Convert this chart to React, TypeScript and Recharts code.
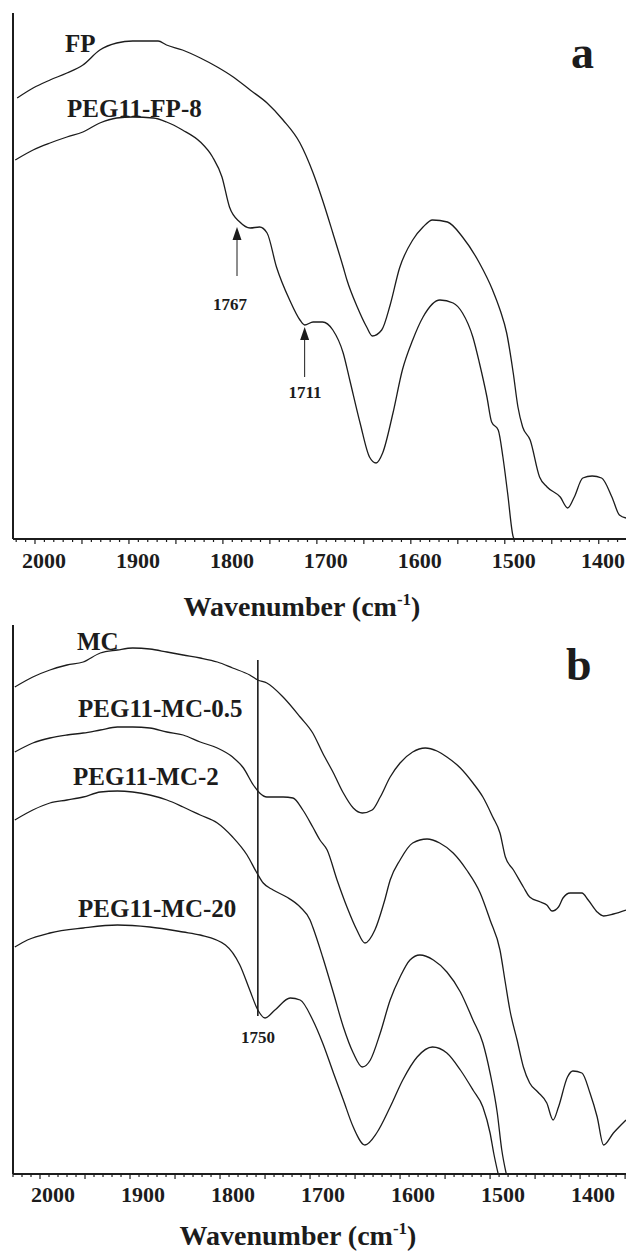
import { LineChart, Line, XAxis, YAxis, ReferenceLine, ReferenceDot } from "recharts";

const FONT = "'Liberation Serif', 'Times New Roman', serif";
const INK = "#1c1c1c";

// panel a: [wavenumber cm-1, transmittance a.u.]
const fp: [number, number][] = [
  [2019, 441], [2002, 451], [1984, 459], [1966, 466], [1949, 474], [1931, 489], [1913, 496],
  [1896, 498], [1869, 498], [1860, 494], [1843, 489], [1824, 481], [1806, 472], [1789, 462],
  [1771, 449], [1753, 436], [1736, 419], [1718, 396], [1704, 366], [1694, 339], [1683, 306],
  [1672, 272], [1668, 259], [1657, 232], [1647, 212], [1641, 203], [1631, 209], [1622, 234],
  [1612, 271], [1598, 299], [1587, 312], [1577, 319], [1561, 317], [1545, 302], [1527, 276],
  [1513, 249], [1505, 229], [1498, 206], [1491, 166], [1486, 132], [1481, 112], [1473, 99],
  [1463, 62], [1455, 52], [1441, 42], [1433, 31], [1426, 42], [1417, 61], [1407, 63],
  [1397, 61], [1386, 42], [1378, 24], [1371, 21],
];
const pegFp8: [number, number][] = [
  [2021, 379], [2002, 389], [1984, 396], [1966, 402], [1949, 407], [1931, 416], [1913, 421],
  [1896, 422], [1874, 421], [1860, 417], [1843, 409], [1824, 397], [1811, 382], [1801, 362],
  [1793, 332], [1782, 317], [1771, 311], [1761, 312], [1753, 306], [1743, 272], [1729, 239],
  [1718, 219], [1713, 214], [1704, 217], [1694, 217], [1683, 209], [1672, 186], [1665, 159],
  [1654, 116], [1644, 82], [1637, 76], [1630, 86], [1619, 126], [1609, 169], [1598, 199],
  [1587, 222], [1569, 239], [1555, 236], [1545, 226], [1534, 202], [1527, 176], [1519, 142],
  [1514, 117], [1507, 109], [1502, 82], [1497, 46], [1491, 2], [1490, 0],
];

// panel b
const mc: [number, number][] = [
  [2028, 487], [2008, 497], [1989, 504], [1970, 509], [1952, 512], [1933, 521], [1914, 524],
  [1897, 526], [1878, 525], [1859, 522], [1841, 519], [1822, 516], [1803, 512], [1786, 506],
  [1767, 499], [1758, 494], [1748, 491], [1730, 477], [1711, 457], [1697, 441], [1686, 421],
  [1674, 401], [1663, 381], [1652, 366], [1642, 361], [1631, 364], [1622, 377], [1611, 397],
  [1600, 411], [1586, 422], [1572, 426], [1559, 423], [1548, 417], [1533, 406], [1519, 391],
  [1508, 377], [1497, 357], [1489, 341], [1483, 317], [1474, 304], [1463, 287], [1456, 277],
  [1444, 272], [1437, 269], [1431, 263], [1424, 267], [1419, 276], [1411, 281], [1398, 281],
  [1391, 274], [1381, 262], [1374, 258], [1363, 260], [1349, 264],
];
const mc05: [number, number][] = [
  [2028, 422], [2008, 431], [1989, 436], [1970, 439], [1952, 441], [1933, 444], [1914, 447],
  [1897, 447], [1878, 446], [1859, 442], [1841, 439], [1822, 432], [1803, 426], [1786, 417],
  [1774, 406], [1763, 389], [1756, 381], [1748, 377], [1730, 377], [1719, 376], [1708, 364],
  [1697, 347], [1689, 334], [1681, 324], [1670, 294], [1659, 267], [1648, 244], [1639, 231],
  [1628, 244], [1617, 274], [1611, 294], [1600, 314], [1586, 331], [1570, 335], [1556, 331],
  [1541, 321], [1526, 304], [1511, 281], [1500, 254], [1489, 224], [1483, 191], [1478, 164],
  [1470, 134], [1463, 107], [1456, 91], [1447, 82], [1437, 71], [1430, 54], [1424, 67],
  [1414, 97], [1408, 103], [1398, 101], [1389, 81], [1381, 57], [1374, 29], [1363, 41], [1349, 54],
];
const mc2: [number, number][] = [
  [2028, 354], [2008, 364], [1989, 371], [1970, 374], [1952, 377], [1933, 382], [1914, 383],
  [1897, 382], [1878, 379], [1859, 374], [1841, 367], [1822, 359], [1803, 351], [1786, 337],
  [1770, 319], [1759, 301], [1752, 291], [1741, 284], [1726, 277], [1711, 267], [1700, 254],
  [1697, 247], [1686, 217], [1674, 181], [1663, 147], [1652, 121], [1642, 107], [1633, 114],
  [1622, 141], [1611, 174], [1600, 197], [1589, 214], [1578, 219], [1563, 214], [1548, 202],
  [1533, 182], [1519, 154], [1508, 131], [1500, 101], [1492, 61], [1487, 24], [1482, 0],
];
const mc20: [number, number][] = [
  [2028, 227], [2014, 234], [1989, 241], [1952, 246], [1914, 249], [1878, 247], [1841, 242],
  [1822, 239], [1794, 229], [1778, 209], [1767, 184], [1758, 164], [1750, 156], [1739, 164],
  [1722, 176], [1711, 174], [1697, 154], [1686, 131], [1674, 101], [1663, 74], [1652, 47],
  [1639, 29], [1626, 41], [1611, 67], [1597, 94], [1581, 117], [1564, 127], [1548, 121],
  [1533, 104], [1519, 84], [1508, 67], [1500, 41], [1496, 21], [1491, 0],
];

const labelledTicks = [2000, 1900, 1800, 1700, 1600, 1500, 1400];

const toRows = (pts: [number, number][]) => pts.map(([wn, v]) => ({ wn, v }));

function minorTicks(lo: number, hi: number) {
  const out: number[] = [];
  for (let t = Math.ceil(lo / 10) * 10; t <= hi; t += 10) out.push(t);
  return out;
}

function AxisTick(props: any) {
  const { x, y, payload, shift, base } = props;
  const v = payload.value;
  const major = v % 50 === 0;
  // keep the last label inside the page
  const lx = Math.min(x + shift, 603);
  return (
    <g>
      <line x1={x} x2={x} y1={y} y2={y + (major ? 5 : 3)} stroke={INK} strokeWidth={1.2} />
      {labelledTicks.includes(v) && (
        <text x={lx} y={y + base} textAnchor="middle" fontFamily={FONT} fontWeight="bold" fontSize={22} fill={INK}>
          {v}
        </text>
      )}
    </g>
  );
}

function ArrowHead(props: any) {
  const { cx, cy } = props;
  return <polygon points={`${cx},${cy} ${cx - 4.5},${cy + 13} ${cx + 4.5},${cy + 13}`} fill={INK} />;
}

function AxisTitle({ x, y }: { x: number; y: number }) {
  return (
    <text x={x} y={y} textAnchor="middle" fontFamily={FONT} fontWeight="bold" fontSize={28} fill={INK}>
      Wavenumber (cm
      <tspan dy={-11} fontSize={17}>-1</tspan>
      <tspan dy={11}>)</tspan>
    </text>
  );
}

const seriesLabel = { fontFamily: FONT, fontWeight: "bold" as const, fontSize: 25, fill: INK };
const peakLabel = { fontFamily: FONT, fontWeight: "bold" as const, fontSize: 17, fill: INK, textAnchor: "middle" as const };

export default function App() {
  const domA: [number, number] = [1371, 2023.4];
  const domB: [number, number] = [1349, 2030];
  return (
    <div style={{ position: "absolute", left: 0, top: 0, width: 626, height: 1251, background: "#fff" }}>
      <div style={{ position: "absolute", left: 0, top: 0 }}>
        <LineChart width={626} height={625} margin={{ top: 13, right: 0, bottom: 6, left: 12 }}>
          <XAxis
            type="number"
            dataKey="wn"
            domain={domA}
            reversed
            allowDataOverflow
            ticks={minorTicks(domA[0], domA[1])}
            interval={0}
            tickSize={0}
            tickMargin={0}
            tickLine={false}
            tick={<AxisTick shift={9} base={29} />}
            axisLine={{ stroke: INK, strokeWidth: 2 }}
            height={80}
          />
          <YAxis type="number" domain={[0, 526]} allowDataOverflow width={1} tick={false} tickLine={false} axisLine={{ stroke: INK, strokeWidth: 2 }} />
          <Line data={toRows(fp)} dataKey="v" type="monotone" stroke={INK} strokeWidth={1.3} dot={false} isAnimationActive={false} />
          <Line data={toRows(pegFp8)} dataKey="v" type="monotone" stroke={INK} strokeWidth={1.3} dot={false} isAnimationActive={false} />
          <ReferenceLine segment={[{ x: 1785, y: 263 }, { x: 1785, y: 305 }]} stroke={INK} strokeWidth={1} />
          <ReferenceDot x={1785} y={312} r={1} shape={<ArrowHead />} />
          <ReferenceLine segment={[{ x: 1713, y: 162 }, { x: 1713, y: 205 }]} stroke={INK} strokeWidth={1} />
          <ReferenceDot x={1713} y={212} r={1} shape={<ArrowHead />} />
          <text x={65} y={52} {...seriesLabel}>FP</text>
          <text x={67} y={117} {...seriesLabel}>PEG11-FP-8</text>
          <text x={571} y={68} fontFamily={FONT} fontWeight="bold" fontSize={46} fill={INK}>a</text>
          <text x={230} y={310} {...peakLabel}>1767</text>
          <text x={305} y={398} {...peakLabel}>1711</text>
          <AxisTitle x={302} y={616} />
        </LineChart>
      </div>
      <div style={{ position: "absolute", left: 0, top: 612 }}>
        <LineChart width={626} height={639} margin={{ top: 13, right: 0, bottom: 5, left: 12 }}>
          <XAxis
            type="number"
            dataKey="wn"
            domain={domB}
            reversed
            allowDataOverflow
            ticks={minorTicks(domB[0], domB[1])}
            interval={0}
            tickSize={0}
            tickMargin={0}
            tickLine={false}
            tick={<AxisTick shift={13} base={28} />}
            axisLine={{ stroke: INK, strokeWidth: 2 }}
            height={72}
          />
          <YAxis type="number" domain={[0, 549]} allowDataOverflow width={1} tick={false} tickLine={false} axisLine={{ stroke: INK, strokeWidth: 2 }} />
          <Line data={toRows(mc)} dataKey="v" type="monotone" stroke={INK} strokeWidth={1.3} dot={false} isAnimationActive={false} />
          <Line data={toRows(mc05)} dataKey="v" type="monotone" stroke={INK} strokeWidth={1.3} dot={false} isAnimationActive={false} />
          <Line data={toRows(mc2)} dataKey="v" type="monotone" stroke={INK} strokeWidth={1.3} dot={false} isAnimationActive={false} />
          <Line data={toRows(mc20)} dataKey="v" type="monotone" stroke={INK} strokeWidth={1.3} dot={false} isAnimationActive={false} />
          <ReferenceLine segment={[{ x: 1758, y: 158 }, { x: 1758, y: 514 }]} stroke={INK} strokeWidth={1.6} />
          <text x={77} y={38} {...seriesLabel}>MC</text>
          <text x={78} y={105} {...seriesLabel}>PEG11-MC-0.5</text>
          <text x={73} y={173} {...seriesLabel}>PEG11-MC-2</text>
          <text x={78} y={305} {...seriesLabel}>PEG11-MC-20</text>
          <text x={566} y={68} fontFamily={FONT} fontWeight="bold" fontSize={46} fill={INK}>b</text>
          <text x={258} y={431} {...peakLabel}>1750</text>
          <AxisTitle x={298} y={633} />
        </LineChart>
      </div>
    </div>
  );
}
